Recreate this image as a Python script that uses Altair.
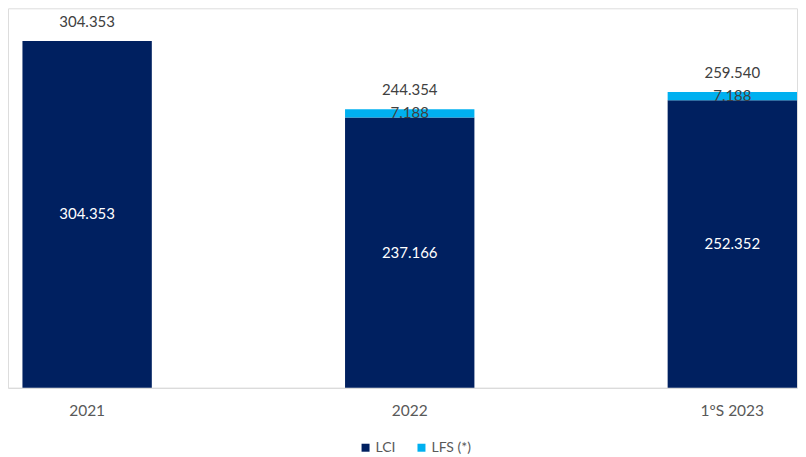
import altair as alt
import pandas as pd

categories = ["2021", "2022", "1ºS 2023"]
lci = [304353, 237166, 252352]
lfs = [0, 7188, 7188]
series = ["LCI", "LFS (*)"]
colors = ["#002060", "#00B0F0"]


def fmt(v):
    return f"{v:,}".replace(",", ".")


rows = []
for c, a, b in zip(categories, lci, lfs):
    rows.append({"cat": c, "serie": "LCI", "val": a, "order": 0})
    rows.append({"cat": c, "serie": "LFS (*)", "val": b, "order": 1})
bars_df = pd.DataFrame(rows)

lci_lab = pd.DataFrame({"cat": categories, "y": [v / 2 for v in lci], "txt": [fmt(v) for v in lci]})
lfs_lab = pd.DataFrame({
    "cat": [c for c, b in zip(categories, lfs) if b > 0],
    "y": [a + b / 2 for a, b in zip(lci, lfs) if b > 0],
    "txt": [fmt(b) for b in lfs if b > 0],
})
tot_lab = pd.DataFrame({"cat": categories, "y": [a + b for a, b in zip(lci, lfs)],
                        "txt": [fmt(a + b) for a, b in zip(lci, lfs)]})

FONT = "Lato"
xscale = alt.Scale(domain=categories, paddingInner=0.599, paddingOuter=0.0224, align=1)
yscale = alt.Scale(domain=[0, 333000])
xenc = alt.X("cat:N", scale=xscale, sort=categories,
             axis=alt.Axis(title=None, labelAngle=0, tickSize=0, labelPadding=16,
                           domainColor="#d9d9d9", labelColor="#595959", labelFontSize=15.5,
                           labelFont=FONT, grid=False))

bars = alt.Chart(bars_df).mark_bar().encode(
    x=xenc,
    y=alt.Y("sum(val):Q", scale=yscale, stack="zero", axis=None),
    color=alt.Color("serie:N", scale=alt.Scale(domain=series, range=colors),
                    legend=alt.Legend(title=None, orient="none", legendX=351, legendY=433,
                                      direction="horizontal", symbolType="square",
                                      symbolSize=64, labelFont=FONT, labelFontSize=14,
                                      labelColor="#595959", columnPadding=19, symbolStrokeWidth=0,
                                      labelOffset=3, padding=0)),
    order=alt.Order("order:Q"),
)

t1 = alt.Chart(lci_lab).mark_text(font=FONT, fontSize=15, color="white", baseline="middle").encode(
    x=alt.X("cat:N", scale=xscale, sort=categories), y=alt.Y("y:Q", scale=yscale), text="txt:N")
t2 = alt.Chart(lfs_lab).mark_text(font=FONT, fontSize=15, color="#404040", baseline="middle").encode(
    x=alt.X("cat:N", scale=xscale, sort=categories), y=alt.Y("y:Q", scale=yscale), text="txt:N")
t3 = alt.Chart(tot_lab).mark_text(font=FONT, fontSize=15, color="#404040", baseline="alphabetic", dy=-14).encode(
    x=alt.X("cat:N", scale=xscale, sort=categories), y=alt.Y("y:Q", scale=yscale), text="txt:N")

chart = alt.layer(bars, t1, t2, t3).properties(
    width=790, height=380, padding=0
).configure_view(strokeWidth=0).configure(background="white")

chart.save("out.html", embed_options={"renderer": "svg", "actions": False})
